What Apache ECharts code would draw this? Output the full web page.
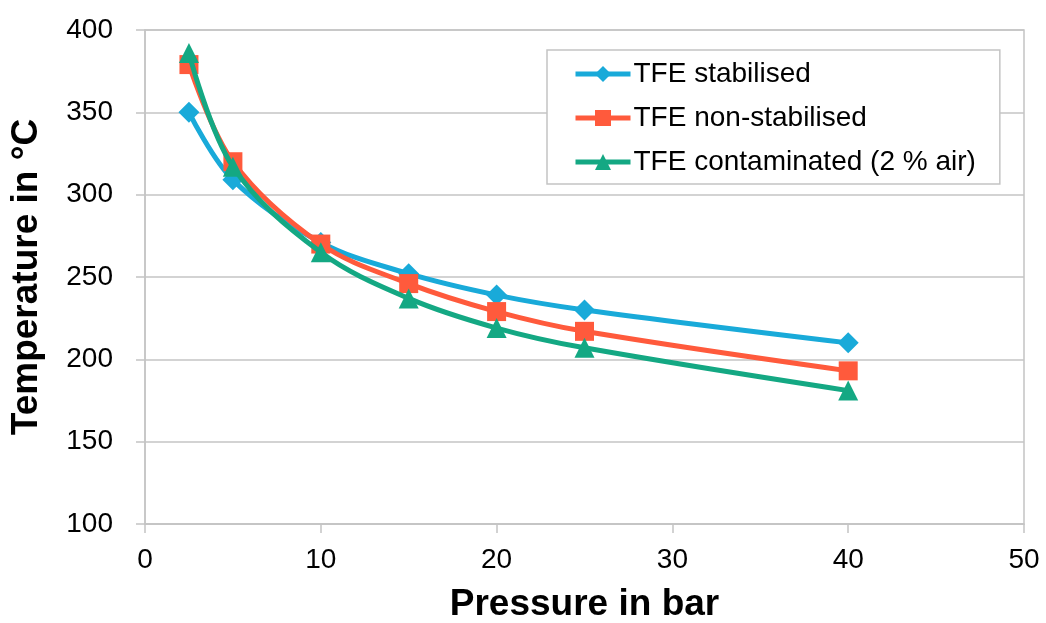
<!DOCTYPE html>
<html>
<head>
<meta charset="utf-8">
<script src="https://cdn.jsdelivr.net/npm/echarts@6/dist/echarts.min.js"></script>
<style>html,body{margin:0;padding:0;background:#fff}#c{width:1046px;height:623px}</style>
</head>
<body>
<div id="c"></div>
<script>
const pressure = [2.5, 5, 10, 15, 20, 25, 40];
const stabilised = [350, 309, 271, 252, 239, 230, 210];
const nonStabilised = [379, 320, 270, 246, 229, 217, 193];
const contaminated = [386, 317, 265, 237, 219, 207, 181];
const seriesNames = ['TFE stabilised', 'TFE non-stabilised', 'TFE contaminated (2 % air)'];
const colors = ['#19AAD9', '#FF5A3C', '#14A883'];
const symbols = ['diamond', 'rect', 'triangle'];
const symbolSizes = [21, 19, 20];
const allValues = [stabilised, nonStabilised, contaminated];

const font = 'Liberation Sans, Arial, sans-serif';
const chart = echarts.init(document.getElementById('c'));
chart.setOption({
  animation: false,
  grid: {left: 145, right: 22, top: 30, bottom: 99, outerBoundsMode: 'none', show: true, borderColor: '#c4c4c4', borderWidth: 1.5},
  legend: {
    orient: 'vertical', left: 547, top: 50, width: 456,
    padding: [10, 24, 8, 26],
    borderColor: '#c4c4c4', borderWidth: 1.5, backgroundColor: '#fff',
    itemWidth: 55, itemHeight: 20, itemGap: 16,
    lineStyle: {width: 5},
    textStyle: {fontFamily: font, fontSize: 28, color: '#000', padding: [0, 0, 0, -2]},
    data: seriesNames
  },
  xAxis: {
    type: 'value', min: 0, max: 50, interval: 10,
    name: 'Pressure in bar', nameLocation: 'middle', nameGap: 62,
    nameTextStyle: {fontFamily: font, fontSize: 37, fontWeight: 'bold', color: '#000'},
    axisLine: {show: true, lineStyle: {color: '#c4c4c4', width: 1.5}},
    axisTick: {show: true, length: 9, lineStyle: {color: '#c4c4c4', width: 1.5}},
    axisLabel: {fontFamily: font, fontSize: 28, color: '#000', margin: 22},
    splitLine: {show: false}
  },
  yAxis: {
    type: 'value', min: 100, max: 400, interval: 50,
    name: 'Temperature in °C', nameLocation: 'middle', nameGap: 100,
    nameTextStyle: {fontFamily: font, fontSize: 37, fontWeight: 'bold', color: '#000'},
    axisLine: {show: true, lineStyle: {color: '#c4c4c4', width: 1.5}},
    axisTick: {show: true, length: 9, lineStyle: {color: '#c4c4c4', width: 1.5}},
    axisLabel: {fontFamily: font, fontSize: 28, color: '#000', margin: 32},
    splitLine: {show: true, lineStyle: {color: '#c4c4c4', width: 1.5}}
  },
  series: seriesNames.map((n, i) => ({
    name: n, type: 'line', smooth: 0.35,
    data: pressure.map((p, j) => [p, allValues[i][j]]),
    symbol: symbols[i], symbolSize: symbolSizes[i],
    itemStyle: {color: colors[i]},
    lineStyle: {color: colors[i], width: 5},
    z: 2 + i
  }))
});
</script>
</body>
</html>
